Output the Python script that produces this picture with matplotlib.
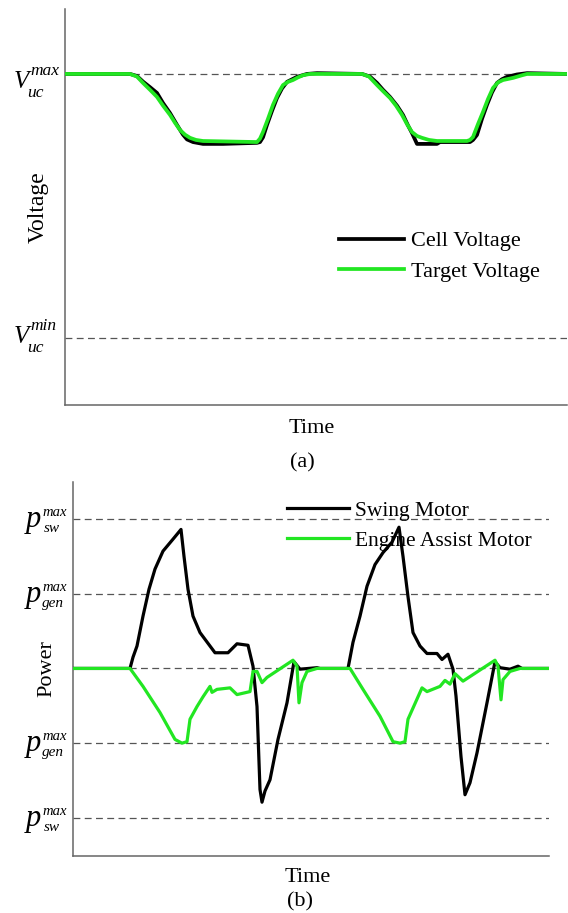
import matplotlib
matplotlib.use("Agg")
import matplotlib.pyplot as plt
from matplotlib.transforms import offset_copy

plt.rcParams['font.family'] = ['Liberation Serif', 'DejaVu Serif']

GREEN = '#22e622'
GRID = '#555555'
SPINE = '#666666'

# (a) voltage, time in arbitrary units, voltage normalised V_min=0, V_max=1
cell_t = [0, 65, 72, 78, 85, 92, 98, 105, 112, 118, 122, 128, 138, 158, 192,
          195, 198, 202, 207, 212, 217, 222, 232, 242, 252,
          297, 305, 312, 318, 325, 332, 338, 343, 347, 352, 372, 375, 405,
          408, 412, 417, 422, 427, 432, 437, 442, 452, 462, 502]
cell_v = [1.0, 1.0, 0.992, 0.971, 0.95, 0.928, 0.89, 0.852, 0.807, 0.77, 0.752, 0.742, 0.735, 0.735, 0.739,
          0.742, 0.76, 0.807, 0.86, 0.909, 0.945, 0.97, 0.989, 1.0, 1.003,
          1.0, 0.99, 0.966, 0.94, 0.913, 0.88, 0.845, 0.805, 0.776, 0.735, 0.735, 0.742, 0.742,
          0.75, 0.769, 0.83, 0.883, 0.93, 0.966, 0.98, 0.989, 0.998, 1.003, 1.0]
target_t = [0, 65, 72, 78, 85, 92, 98, 105, 110, 115, 120, 125, 131, 138, 192,
            195, 198, 203, 208, 213, 218, 223, 228, 233, 238, 245,
            297, 304, 312, 318, 325, 331, 337, 342, 347, 352, 357, 364, 372, 402,
            405, 408, 413, 418, 423, 428, 433, 438, 448, 457, 462, 502]
target_v = [1.0, 1.0, 0.99, 0.966, 0.94, 0.913, 0.88, 0.845, 0.815, 0.788, 0.77, 0.758, 0.75, 0.746, 0.742,
            0.755, 0.78, 0.83, 0.883, 0.925, 0.958, 0.97, 0.977, 0.987, 0.995, 1.0,
            1.0, 0.99, 0.958, 0.935, 0.909, 0.88, 0.845, 0.81, 0.78, 0.765, 0.758, 0.75, 0.746, 0.746,
            0.75, 0.761, 0.81, 0.856, 0.905, 0.947, 0.968, 0.977, 0.985, 0.995, 1.0, 1.0]
v_levels = [1.0, 0.0]
v_sup = ['max', 'min']
v_sub = ['uc', 'uc']

# (b) power, normalised so p_gen=1, p_sw=2
swing_t = [0, 57, 60, 64, 70, 76, 82, 90, 100, 108,
           111, 115, 120, 127, 137, 142, 155, 164, 175, 180,
           184, 187, 189, 192, 197, 205, 214, 221, 227, 244,
           247, 275, 280, 287, 294, 302, 310, 319, 326, 330,
           335, 340, 347, 354, 364, 369, 375, 380, 383, 388,
           392, 397, 404, 414, 422, 427, 437, 445, 449, 476]
swing_p = [0, 0, 0.15, 0.30, 0.70, 1.06, 1.33, 1.57, 1.73, 1.86,
           1.50, 1.06, 0.70, 0.48, 0.30, 0.21, 0.21, 0.33, 0.31, 0.03,
           -0.51, -1.62, -1.79, -1.64, -1.49, -0.95, -0.46, 0.09, -0.01, 0.01,
           0, 0, 0.35, 0.70, 1.10, 1.39, 1.55, 1.69, 1.89, 1.50,
           0.96, 0.48, 0.30, 0.20, 0.20, 0.12, 0.19, -0.01, -0.37, -1.18,
           -1.69, -1.53, -1.13, -0.46, 0.09, 0.01, -0.01, 0.03, 0, 0]
assist_t = [0, 57, 70, 87, 102, 109, 114, 117, 124, 130,
            137, 139, 144, 157, 164, 177, 180, 184, 189, 194,
            220, 224, 226, 229, 234, 244, 277, 290, 307, 320,
            327, 332, 335, 344, 349, 354, 367, 372, 377, 382,
            390, 422, 425, 428, 430, 437, 447, 476]
assist_p = [0, 0, -0.24, -0.59, -0.95, -1.0, -0.98, -0.68, -0.51, -0.38,
            -0.24, -0.32, -0.28, -0.26, -0.35, -0.31, -0.04, -0.04, -0.19, -0.12,
            0.11, 0.03, -0.46, -0.19, -0.04, 0, 0, -0.28, -0.64, -0.98,
            -1.0, -0.98, -0.68, -0.41, -0.26, -0.31, -0.24, -0.16, -0.21, -0.07,
            -0.17, 0.11, 0.03, -0.42, -0.15, -0.04, 0, 0]
p_levels = [2, 1, -1, -2]
p_sup = ['max', 'max', 'max', 'max']
p_sub = ['sw', 'gen', 'gen', 'sw']

fig = plt.figure(figsize=(5.68, 9.13), dpi=100)
ax1 = fig.add_axes([65 / 568, 1 - 405 / 913, 502 / 568, 396 / 913])
ax2 = fig.add_axes([73 / 568, 1 - 856 / 913, 476 / 568, 374 / 913])


def style(ax):
    for s in ['top', 'right']:
        ax.spines[s].set_visible(False)
    for s in ['left', 'bottom']:
        ax.spines[s].set_color(SPINE)
        ax.spines[s].set_linewidth(1.1)
    ax.set_xticks([])
    ax.set_yticks([])


def level_label(ax, y, main, sup, sub, parts):
    # parts: (dx, dy, size) in pixels relative to axis/level
    for txt, (dx, dy, size) in zip([main, sup, sub], parts):
        tr = offset_copy(ax.get_yaxis_transform(), fig=fig, x=dx, y=dy, units='dots')
        ax.text(0, y, txt, transform=tr, ha='left', va='baseline', fontsize=size,
                style='italic')


# --- (a)
style(ax1)
for lv in v_levels:
    ax1.axhline(lv, color=GRID, lw=0.9, dashes=(5.5, 3.5), zorder=1)
ax1.plot(cell_t, cell_v, color='black', lw=2.7, label='Cell Voltage', zorder=3)
ax1.plot(target_t, target_v, color=GREEN, lw=2.7, label='Target Voltage', zorder=4)
ax1.set_xlim(0, 502)
ax1.set_ylim(-0.254, 1.246)
for lv, sup, sub, shift in zip(v_levels, v_sup, v_sub, [-9, 0]):
    level_label(ax1, lv, 'V', sup, sub,
                [(-51, -5 + shift, 18), (-35, 8 + shift, 12.5), (-38, -14 + shift, 12.5)])
ax1.set_ylabel('Voltage', fontsize=17, labelpad=12)
ax1.legend(loc='upper left', bbox_to_anchor=(0.546, 0.44), frameon=False, fontsize=16,
           handlelength=2.9, handletextpad=0.35, labelspacing=0.45, borderpad=0, borderaxespad=0)
fig.text(312 / 568, 1 - 428 / 913, 'Time', ha='center', va='center', fontsize=16)
fig.text(302 / 568, 1 - 463 / 913, '(a)', ha='center', va='center', fontsize=16)

# --- (b)
style(ax2)
for lv in [2, 1, 0, -1, -2]:
    ax2.axhline(lv, color=GRID, lw=0.9, dashes=(5.5, 3.5), zorder=1)
ax2.plot(swing_t, swing_p, color='black', lw=2.3, label='Swing Motor', zorder=3)
ax2.plot(assist_t, assist_p, color=GREEN, lw=2.3, label='Engine Assist Motor', zorder=4)
ax2.set_xlim(0, 476)
ax2.set_ylim(-2.51, 2.495)
for lv, sup, sub in zip(p_levels, p_sup, p_sub):
    sub_dx = -29 if sub == 'sw' else -31
    level_label(ax2, lv, 'p', sup, sub,
                [(-47, -8, 22), (-31, 3, 10.5), (sub_dx, -13, 11)])
ax2.set_ylabel('Power', fontsize=16, labelpad=12)
leg = ax2.legend(loc='upper left', bbox_to_anchor=(0.45, 0.95), frameon=False, fontsize=15.5,
                 handlelength=2.85, handletextpad=0.3, labelspacing=0.45, borderpad=0,
                 borderaxespad=0)
leg.set_zorder(2)
fig.text(308 / 568, 1 - 877 / 913, 'Time', ha='center', va='center', fontsize=16)
fig.text(300 / 568, 1 - 902 / 913, '(b)', ha='center', va='center', fontsize=16)

fig.savefig('out.png', dpi=100)
